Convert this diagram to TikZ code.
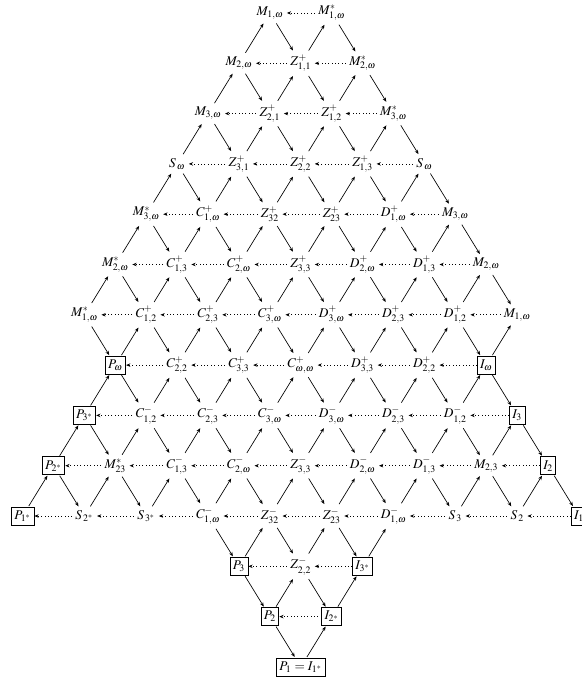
\documentclass[tikz,border=0pt]{standalone}
\usepackage{amsmath}
\usepackage{mathptmx}
\usepackage{tikz}
\usetikzlibrary{arrows.meta}

\begin{document}
\begin{tikzpicture}[
  x=23.18pt,y=-37.725pt,
  mod/.style={inner sep=2.5pt,font=\normalsize},
  proj/.style={draw,line width=0.6pt,inner sep=2.2pt,minimum height=13.5pt,font=\normalsize},
  arr/.style={-{Stealth[length=3.2pt,width=2.6pt]},line width=0.5pt,shorten >=0.5pt,shorten <=0.5pt},
  tau/.style={-{Stealth[length=3.2pt,width=2.6pt]},line width=0.5pt,dotted}
]
\useasboundingbox (-9.733,-0.258) rectangle (9.07,13.28);

% row 0 to row 3
\node[mod] (m1w)  at (-1,0) {$M_{1,\omega}$};
\node[mod] (m1ws) at (1,0)  {$M^*_{1,\omega}$};

\node[mod] (m2w)  at (-2,1) {$M_{2,\omega}$};
\node[mod] (zp11) at (0,1)  {$Z^+_{1,1}$};
\node[mod] (m2ws) at (2,1)  {$M^*_{2,\omega}$};

\node[mod] (m3w)  at (-3,2) {$M_{3,\omega}$};
\node[mod] (zp21) at (-1,2) {$Z^+_{2,1}$};
\node[mod] (zp12) at (1,2)  {$Z^+_{1,2}$};
\node[mod] (m3ws) at (3,2)  {$M^*_{3,\omega}$};

\node[mod] (sw)   at (-4,3) {$S_{\,\omega}$};
\node[mod] (zp31) at (-2,3) {$Z^+_{3,1}$};
\node[mod] (zp22) at (0,3)  {$Z^+_{2,2}$};
\node[mod] (zp13) at (2,3)  {$Z^+_{1,3}$};
\node[mod] (swr)  at (4,3)  {$S_{\,\omega}$};

% row 4 to row 6
\node[mod] (m3wsl) at (-5,4) {$M^*_{3,\omega}$};
\node[mod] (cp1w)  at (-3,4) {$C^+_{1,\omega}$};
\node[mod] (zp32)  at (-1,4) {$Z^+_{32}$};
\node[mod] (zp23)  at (1,4)  {$Z^+_{23}$};
\node[mod] (dp1w)  at (3,4)  {$D^+_{1,\omega}$};
\node[mod] (m3wr)  at (5,4)  {$M_{3,\omega}$};

\node[mod] (m2wsl) at (-6,5) {$M^*_{2,\omega}$};
\node[mod] (cp13)  at (-4,5) {$C^+_{1,3}$};
\node[mod] (cp2w)  at (-2,5) {$C^+_{2,\omega}$};
\node[mod] (zp33)  at (0,5)  {$Z^+_{3,3}$};
\node[mod] (dp2w)  at (2,5)  {$D^+_{2,\omega}$};
\node[mod] (dp13)  at (4,5)  {$D^+_{1,3}$};
\node[mod] (m2wr)  at (6,5)  {$M_{2,\omega}$};

\node[mod] (m1wsl) at (-7,6) {$M^*_{1,\omega}$};
\node[mod] (cp12)  at (-5,6) {$C^+_{1,2}$};
\node[mod] (cp23)  at (-3,6) {$C^+_{2,3}$};
\node[mod] (cp3w)  at (-1,6) {$C^+_{3,\omega}$};
\node[mod] (dp3w)  at (1,6)  {$D^+_{3,\omega}$};
\node[mod] (dp23)  at (3,6)  {$D^+_{2,3}$};
\node[mod] (dp12)  at (5,6)  {$D^+_{1,2}$};
\node[mod] (m1wr)  at (7,6)  {$M_{1,\omega}$};

% row 7 to row 10
\node[proj] (pw)   at (-6,7) {$P_\omega$};
\node[mod]  (cp22) at (-4,7) {$C^+_{2,2}$};
\node[mod]  (cp33) at (-2,7) {$C^+_{3,3}$};
\node[mod]  (cpww) at (0,7)  {$C^+_{\omega,\omega}$};
\node[mod]  (dp33) at (2,7)  {$D^+_{3,3}$};
\node[mod]  (dp22) at (4,7)  {$D^+_{2,2}$};
\node[proj] (iw)   at (6,7)  {$I_\omega$};

\node[proj] (p3s)  at (-7,8) {$P_{3^*}$};
\node[mod]  (cm12) at (-5,8) {$C^-_{1,2}$};
\node[mod]  (cm23) at (-3,8) {$C^-_{2,3}$};
\node[mod]  (cm3w) at (-1,8) {$C^-_{3,\omega}$};
\node[mod]  (dm3w) at (1,8)  {$D^-_{3,\omega}$};
\node[mod]  (dm23) at (3,8)  {$D^-_{2,3}$};
\node[mod]  (dm12) at (5,8)  {$D^-_{1,2}$};
\node[proj] (i3)   at (7,8)  {$I_3$};

\node[proj] (p2s)  at (-8,9) {$P_{2^*}$};
\node[mod]  (ms23) at (-6,9) {$M^*_{23}$};
\node[mod]  (cm13) at (-4,9) {$C^-_{1,3}$};
\node[mod]  (cm2w) at (-2,9) {$C^-_{2,\omega}$};
\node[mod]  (zm33) at (0,9)  {$Z^-_{3,3}$};
\node[mod]  (dm2w) at (2,9)  {$D^-_{2,\omega}$};
\node[mod]  (dm13) at (4,9)  {$D^-_{1,3}$};
\node[mod]  (m23)  at (6,9)  {$M_{2,3}$};
\node[proj] (i2)   at (8,9)  {$I_2$};

\node[proj] (p1s)  at (-9,10) {$P_{1^*}$};
\node[mod]  (s2s)  at (-7,10) {$S_{\,2^*}$};
\node[mod]  (s3s)  at (-5,10) {$S_{\,3^*}$};
\node[mod]  (cm1w) at (-3,10) {$C^-_{1,\omega}$};
\node[mod]  (zm32) at (-1,10) {$Z^-_{32}$};
\node[mod]  (zm23) at (1,10)  {$Z^-_{23}$};
\node[mod]  (dm1w) at (3,10)  {$D^-_{1,\omega}$};
\node[mod]  (s3)   at (5,10)  {$S_{\,3}$};
\node[mod]  (s2)   at (7,10)  {$S_{\,2}$};
\node[proj] (i1)   at (9,10)  {$I_1$};

% row 11 to row 13
\node[proj] (p3)   at (-2,11) {$P_3$};
\node[mod]  (zm22) at (0,11)  {$Z^-_{2,2}$};
\node[proj] (i3s)  at (2,11)  {$I_{3^*}$};

\node[proj] (p2)   at (-1,12) {$P_2$};
\node[proj] (i2s)  at (1,12)  {$I_{2^*}$};

\node[proj] (p1)   at (0,13)  {$P_1=I_{1^*}$};

% irreducible maps going up
\foreach \a/\b in {m2w/m1w,zp11/m1ws,
  m3w/m2w,zp21/zp11,zp12/m2ws,
  sw/m3w,zp31/zp21,zp22/zp12,zp13/m3ws,
  m3wsl/sw,cp1w/zp31,zp32/zp22,zp23/zp13,dp1w/swr,
  m2wsl/m3wsl,cp13/cp1w,cp2w/zp32,zp33/zp23,dp2w/dp1w,dp13/m3wr,
  m1wsl/m2wsl,cp12/cp13,cp23/cp2w,cp3w/zp33,dp3w/dp2w,dp23/dp13,dp12/m2wr,
  pw/cp12,cp22/cp23,cp33/cp3w,cpww/dp3w,dp33/dp23,dp22/dp12,iw/m1wr,
  p3s/pw,cm12/cp22,cm23/cp33,cm3w/cpww,dm3w/dp33,dm23/dp22,dm12/iw,
  p2s/p3s,ms23/cm12,cm13/cm23,cm2w/cm3w,zm33/dm3w,dm2w/dm23,dm13/dm12,m23/i3,
  p1s/p2s,s2s/ms23,s3s/cm13,cm1w/cm2w,zm32/zm33,zm23/dm2w,dm1w/dm13,s3/m23,s2/i2,
  p3/zm32,zm22/zm23,i3s/dm1w,
  p2/zm22,i2s/i3s,
  p1/i2s}
  \draw[arr] (\a) -- (\b);

% irreducible maps going down
\foreach \a/\b in {m1w/zp11,m1ws/m2ws,
  m2w/zp21,zp11/zp12,m2ws/m3ws,
  m3w/zp31,zp21/zp22,zp12/zp13,m3ws/swr,
  sw/cp1w,zp31/zp32,zp22/zp23,zp13/dp1w,swr/m3wr,
  m3wsl/cp13,cp1w/cp2w,zp32/zp33,zp23/dp2w,dp1w/dp13,m3wr/m2wr,
  m2wsl/cp12,cp13/cp23,cp2w/cp3w,zp33/dp3w,dp2w/dp23,dp13/dp12,m2wr/m1wr,
  m1wsl/pw,cp12/cp22,cp23/cp33,cp3w/cpww,dp3w/dp33,dp23/dp22,dp12/iw,
  pw/cm12,cp22/cm23,cp33/cm3w,cpww/dm3w,dp33/dm23,dp22/dm12,iw/i3,
  p3s/ms23,cm12/cm13,cm23/cm2w,cm3w/zm33,dm3w/dm2w,dm23/dm13,dm12/m23,i3/i2,
  p2s/s2s,ms23/s3s,cm13/cm1w,cm2w/zm32,zm33/zm23,dm2w/dm1w,dm13/s3,m23/s2,i2/i1,
  cm1w/p3,zm32/zm22,zm23/i3s,
  p3/p2,zm22/i2s,
  p2/p1}
  \draw[arr] (\a) -- (\b);

% translations
\foreach \a/\b in {m1ws/m1w,
  zp11/m2w,m2ws/zp11,
  zp21/m3w,zp12/zp21,m3ws/zp12,
  zp31/sw,zp22/zp31,zp13/zp22,swr/zp13,
  cp1w/m3wsl,zp32/cp1w,zp23/zp32,dp1w/zp23,m3wr/dp1w,
  cp13/m2wsl,cp2w/cp13,zp33/cp2w,dp2w/zp33,dp13/dp2w,m2wr/dp13,
  cp12/m1wsl,cp23/cp12,cp3w/cp23,dp3w/cp3w,dp23/dp3w,dp12/dp23,m1wr/dp12,
  cp22/pw,cp33/cp22,cpww/cp33,dp33/cpww,dp22/dp33,iw/dp22,
  cm12/p3s,cm23/cm12,cm3w/cm23,dm3w/cm3w,dm23/dm3w,dm12/dm23,i3/dm12,
  ms23/p2s,cm13/ms23,cm2w/cm13,zm33/cm2w,dm2w/zm33,dm13/dm2w,m23/dm13,i2/m23,
  s2s/p1s,s3s/s2s,cm1w/s3s,zm32/cm1w,zm23/zm32,dm1w/zm23,s3/dm1w,s2/s3,i1/s2,
  zm22/p3,i3s/zm22,
  i2s/p2}
  \draw[tau] (\a) -- (\b);
\end{tikzpicture}
\end{document}
